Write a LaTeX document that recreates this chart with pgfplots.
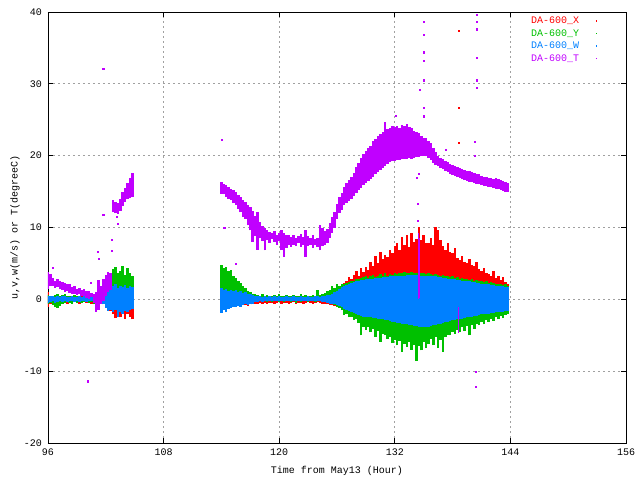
\documentclass[border=0pt]{standalone}
\usepackage{fontspec}
\setmainfont{Liberation Mono}
\usepackage{pgfplots}
\usepackage{pgfplotstable}
\pgfplotsset{compat=1.18}
\definecolor{cX}{RGB}{255,0,0}
\definecolor{cY}{RGB}{0,192,0}
\definecolor{cW}{RGB}{0,128,255}
\definecolor{cT}{RGB}{192,0,255}
\definecolor{cG}{RGB}{160,160,160}
\pgfplotstableread{
x ulo uhi vlo vhi wlo whi tlo thi
96.00 -1.0 1.0 -0.6 0.6 -0.5 0.5 1.5 3.8
96.25 -0.6 0.5 -0.5 0.4 -0.4 0.4 1.8 3.5
96.50 -0.5 0.4 -0.8 0.5 -0.3 0.5 1.9 3.0
96.75 -0.4 0.6 -1.1 0.6 -0.5 0.3 1.6 2.6
97.00 -0.7 0.3 -1.2 0.7 -0.4 0.4 1.7 2.8
97.25 -0.3 0.5 -0.9 0.5 -0.3 0.3 1.4 2.5
97.50 -0.5 0.4 -0.6 0.6 -0.4 0.4 1.3 2.4
97.75 -0.4 0.3 -0.5 0.7 -0.3 0.5 1.0 2.3
98.00 -0.6 0.4 -0.4 0.5 -0.4 0.3 1.2 2.1
98.25 -0.3 0.3 -0.5 0.4 -0.3 0.3 0.9 2.2
98.50 -0.5 0.5 -0.6 0.5 -0.3 0.4 0.8 1.7
98.75 -0.4 0.3 -0.4 0.6 -0.4 0.3 0.7 1.8
99.00 -0.3 0.4 -0.5 0.4 -0.3 0.3 0.6 1.5
99.25 -0.6 0.3 -0.3 0.5 -0.4 0.4 0.7 1.6
99.50 -0.4 0.4 -0.5 0.3 -0.3 0.3 0.4 1.3
99.75 -0.3 0.3 -0.4 0.5 -0.3 0.4 0.5 1.4
100.00 -0.5 0.4 -0.3 0.4 -0.4 0.3 0.2 1.2
100.25 -0.4 0.3 -0.5 0.4 -0.3 0.3 0.0 1.1
100.50 -0.6 0.3 -0.4 0.5 -0.3 0.4 0.3 0.9
100.75 -0.5 0.5 -0.7 0.6 -0.4 0.3 -0.5 0.8
101.00 -0.4 0.4 -0.8 0.5 -0.4 0.4 -1.7 1.0
101.25 -0.6 0.5 -0.6 0.8 -0.5 0.4 -1.5 2.7
101.50 -0.5 0.6 -0.5 0.9 -0.4 0.5 -0.6 1.8
101.75 -0.7 0.6 -0.5 1.0 -0.6 0.6 -0.3 2.9
102.00 -0.9 0.9 -0.8 1.3 -1.2 1.2 0.5 3.4
102.25 -1.2 1.4 -0.9 2.0 -1.6 1.8 1.0 3.8
102.50 -1.6 1.8 -1.0 2.7 -1.5 2.0 1.3 3.6
102.75 -2.0 2.2 -1.2 4.2 -1.8 1.8 12.1 13.8
103.00 -2.6 2.5 -1.2 4.5 -1.5 2.1 12.0 13.6
103.25 -2.2 2.4 -1.3 3.6 -2.5 1.6 11.9 13.4
103.50 -2.5 2.6 -1.0 3.9 -1.7 1.9 12.3 13.9
103.75 -1.9 2.3 -1.2 4.6 -2.0 1.7 13.0 15.0
104.00 -2.7 2.5 -1.3 3.4 -1.6 2.0 13.6 15.5
104.25 -2.0 2.4 -1.2 4.3 -1.8 1.6 13.9 16.2
104.50 -2.4 2.5 -1.1 3.6 -1.5 1.9 14.1 16.9
104.75 -2.8 2.6 -1.2 3.2 -1.4 1.7 14.3 17.6
114.00 -1.2 1.0 -1.6 4.8 -1.9 1.6 14.7 16.3
114.25 -1.0 0.9 -1.3 4.3 -1.5 1.3 14.6 16.0
114.50 -1.1 1.0 -1.5 4.5 -1.8 1.5 14.3 15.9
114.75 -0.9 0.8 -1.1 3.9 -1.3 1.2 14.0 15.6
115.00 -1.0 0.9 -1.0 4.1 -1.2 1.3 13.8 15.4
115.25 -0.8 0.8 -0.8 3.2 -1.0 1.1 13.4 15.2
115.50 -0.9 0.9 -0.9 3.0 -1.1 1.3 13.1 14.9
115.75 -0.8 0.7 -0.7 2.6 -0.9 1.0 12.6 14.5
116.00 -0.9 0.8 -0.8 2.3 -1.0 1.1 12.1 14.2
116.25 -0.8 0.7 -0.6 1.9 -0.8 0.9 11.5 13.8
116.50 -0.8 0.7 -0.5 1.6 -0.7 1.0 11.2 13.5
116.75 -0.9 0.6 -0.6 1.2 -0.8 0.8 10.3 13.2
117.00 -0.7 0.6 -0.5 1.0 -0.6 0.7 9.6 12.9
117.25 -0.7 0.5 -0.5 0.8 -0.7 0.6 8.0 12.3
117.50 -0.6 0.4 -0.4 0.7 -0.4 0.5 8.8 11.6
117.75 -0.6 0.4 -0.4 0.6 -0.4 0.4 6.9 12.2
118.00 -0.5 0.3 -0.3 0.5 -0.3 0.4 8.5 10.8
118.25 -0.6 0.3 -0.4 0.7 -0.4 0.3 8.1 10.2
118.50 -0.5 0.3 -0.3 0.4 -0.3 0.4 6.8 9.9
118.75 -0.6 0.2 -0.4 0.6 -0.3 0.3 8.2 9.6
119.00 -0.5 0.3 -0.3 0.5 -0.3 0.4 7.9 9.4
119.25 -0.5 0.2 -0.4 0.4 -0.3 0.3 8.4 9.2
119.50 -0.6 0.3 -0.3 0.6 -0.2 0.4 8.0 9.5
119.75 -0.5 0.2 -0.3 0.4 -0.3 0.3 7.6 9.0
120.00 -0.4 0.3 -0.4 0.7 -0.3 0.4 8.1 9.3
120.25 -0.6 0.2 -0.3 0.5 -0.2 0.3 6.8 9.6
120.50 -0.5 0.3 -0.4 0.4 -0.3 0.3 5.9 9.3
120.75 -0.5 0.2 -0.3 0.6 -0.3 0.4 7.2 8.9
121.00 -0.6 0.3 -0.3 0.5 -0.2 0.3 7.5 9.0
121.25 -0.5 0.2 -0.4 0.4 -0.3 0.3 7.3 8.7
121.50 -0.4 0.3 -0.3 0.6 -0.3 0.4 7.6 8.9
121.75 -0.6 0.2 -0.5 0.5 -0.2 0.3 7.4 8.6
122.00 -0.5 0.3 -0.3 0.4 -0.3 0.3 7.8 8.8
122.25 -0.5 0.2 -0.4 0.7 -0.3 0.4 7.3 9.1
122.50 -0.6 0.3 -0.3 0.5 -0.2 0.3 7.5 8.7
122.75 -0.5 0.2 -0.3 0.6 -0.3 0.3 5.9 9.6
123.00 -0.4 0.3 -0.4 0.4 -0.3 0.4 7.4 8.8
123.25 -0.5 0.2 -0.3 0.5 -0.2 0.3 7.6 8.5
123.50 -0.6 0.3 -0.3 0.6 -0.3 0.3 7.2 8.9
123.75 -0.5 0.2 -0.4 0.5 -0.3 0.4 7.5 8.4
124.00 -0.4 0.3 -0.3 1.3 -0.3 0.5 7.3 8.6
124.25 -0.5 0.3 -0.3 0.6 -0.3 0.3 6.8 10.3
124.50 -0.6 0.4 -0.4 0.7 -0.4 0.4 7.4 9.9
124.75 -0.6 0.4 -0.4 0.9 -0.4 0.5 7.6 9.5
125.00 -0.7 0.5 -0.5 1.1 -0.5 0.6 7.9 9.8
125.25 -0.8 0.6 -0.6 1.3 -0.6 0.6 8.6 10.6
125.50 -0.8 0.7 -0.7 1.8 -0.6 0.8 9.3 11.5
125.75 -0.9 0.9 -0.8 1.6 -0.7 1.0 10.0 12.2
126.00 -1.0 1.2 -1.0 2.2 -0.8 1.1 11.2 13.3
126.25 -1.1 1.6 -1.2 1.9 -0.9 1.4 12.0 14.2
126.50 -1.2 2.0 -1.5 2.1 -1.0 1.7 12.5 14.8
126.75 -1.3 2.3 -2.2 2.2 -1.3 1.9 13.1 15.6
127.00 -1.4 2.6 -2.0 2.3 -1.5 2.0 13.4 16.2
127.25 -1.5 3.1 -2.5 2.4 -1.6 2.1 13.7 16.6
127.50 -1.6 2.8 -2.4 2.5 -1.8 2.3 14.0 17.0
127.75 -1.7 3.4 -2.9 2.6 -1.9 2.4 14.4 17.6
128.00 -1.8 3.9 -2.7 2.9 -2.0 2.5 14.8 18.4
128.25 -1.9 3.2 -3.3 2.8 -2.2 2.6 15.2 19.0
128.50 -2.0 4.3 -5.0 3.0 -2.3 2.7 15.5 19.7
128.75 -2.0 3.8 -3.8 3.1 -2.4 2.7 15.9 20.3
129.00 -2.1 4.5 -4.2 3.3 -2.4 2.8 16.2 20.6
129.25 -2.1 4.1 -3.9 3.0 -2.5 2.8 16.5 21.0
129.50 -2.2 5.2 -4.6 3.2 -2.5 2.9 16.8 21.4
129.75 -2.2 4.6 -4.1 3.4 -2.6 2.9 17.1 22.0
130.00 -2.3 6.1 -5.2 3.1 -2.6 3.0 17.4 22.3
130.25 -2.3 5.0 -4.4 3.3 -2.7 3.0 17.7 22.8
130.50 -2.4 6.6 -5.9 3.5 -2.7 3.0 18.0 23.0
130.75 -2.4 5.6 -4.8 3.2 -2.8 3.1 18.3 23.3
131.00 -2.5 6.2 -5.0 3.6 -2.9 3.1 18.6 24.7
131.25 -2.5 5.9 -5.5 3.3 -2.9 3.1 18.9 23.7
131.50 -2.6 6.9 -5.2 3.5 -3.0 3.2 19.1 23.9
131.75 -2.6 6.4 -6.1 3.4 -3.1 3.2 19.2 24.1
132.00 -2.7 7.4 -5.6 3.6 -3.2 3.2 19.3 24.0
132.25 -2.7 7.8 -6.4 3.5 -3.3 3.3 19.35 24.2
132.50 -2.8 6.8 -5.8 3.7 -3.3 3.3 19.4 23.9
132.75 -2.8 8.7 -7.3 3.6 -3.4 3.3 19.5 24.3
133.00 -2.8 7.6 -6.2 3.8 -3.5 3.3 19.6 24.1
133.25 -2.9 8.9 -6.6 3.6 -3.5 3.4 19.6 24.4
133.50 -2.9 7.3 -5.9 3.7 -3.6 3.4 19.7 24.0
133.75 -2.9 9.3 -7.0 3.8 -3.6 3.4 19.6 23.8
134.00 -3.0 8.0 -6.3 3.6 -3.7 3.4 19.7 23.5
134.25 -3.0 8.4 -8.6 3.7 -3.7 3.4 19.8 23.3
134.50 -3.0 10.1 -6.5 3.8 -3.8 3.4 19.8 23.1
134.75 -3.0 8.2 -7.1 3.6 -3.8 3.3 19.9 22.8
135.00 -3.0 9.0 -6.0 3.7 -3.8 3.3 20.0 22.5
135.25 -3.0 7.9 -6.8 3.5 -3.8 3.3 19.9 22.4
135.50 -3.0 7.8 -6.2 3.6 -3.8 3.3 19.7 22.1
135.75 -3.0 8.6 -5.5 3.5 -3.7 3.3 19.4 21.7
136.00 -2.9 7.5 -6.4 3.4 -3.6 3.2 19.0 21.1
136.25 -2.9 10.1 -5.2 3.5 -3.6 3.2 18.7 20.5
136.50 -2.9 9.6 -6.8 3.4 -3.5 3.1 18.5 20.0
136.75 -2.8 8.2 -5.6 3.3 -3.4 3.1 18.3 19.7
137.00 -2.8 7.4 -7.3 3.4 -3.3 3.0 18.1 19.5
137.25 -2.8 6.9 -5.3 3.2 -3.2 3.0 17.9 19.3
137.50 -2.7 7.8 -4.9 3.3 -3.1 2.9 17.7 19.1
137.75 -2.7 6.6 -5.0 3.1 -3.0 2.9 17.5 18.9
138.00 -2.6 6.4 -4.5 3.2 -2.9 2.8 17.3 18.7
138.25 -2.6 7.2 -4.8 3.0 -2.9 2.8 17.2 18.5
138.50 -2.5 5.8 -4.2 3.1 -2.8 2.7 17.0 18.4
138.75 -2.5 5.5 -4.6 2.9 -2.7 2.7 16.9 18.3
139.00 -2.4 6.1 -3.9 3.0 -2.7 2.6 16.7 18.1
139.25 -2.4 5.2 -4.4 2.8 -2.6 2.6 16.6 18.0
139.50 -2.3 5.0 -3.7 2.9 -2.5 2.5 16.5 17.9
139.75 -2.3 5.6 -5.0 2.7 -2.5 2.5 16.4 17.8
140.00 -2.2 4.8 -3.6 2.8 -2.4 2.4 16.3 17.7
140.25 -2.2 4.6 -4.1 2.6 -2.3 2.4 16.2 17.6
140.50 -2.1 5.2 -3.4 2.7 -2.3 2.3 16.1 17.5
140.75 -2.1 4.2 -3.6 2.6 -2.2 2.3 16.0 17.4
141.00 -2.0 3.9 -3.2 2.5 -2.1 2.2 15.9 17.2
141.25 -2.0 4.4 -3.5 2.4 -2.1 2.2 15.8 17.1
141.50 -1.9 3.7 -2.9 2.5 -2.0 2.1 15.8 17.0
141.75 -1.9 3.5 -3.1 2.3 -2.0 2.1 15.7 16.9
142.00 -1.8 3.2 -2.7 2.4 -1.9 2.0 15.6 16.9
142.25 -1.8 3.9 -3.0 2.3 -1.9 2.0 15.5 16.8
142.50 -1.8 3.0 -2.5 2.2 -1.8 1.9 15.4 16.9
142.75 -1.7 3.3 -2.8 2.1 -1.8 1.9 15.3 16.7
143.00 -1.7 2.7 -2.3 2.2 -1.7 1.8 15.2 16.6
143.25 -1.7 3.1 -2.6 2.0 -1.7 1.8 15.1 16.5
143.50 -1.6 2.4 -2.2 2.1 -1.6 1.7 15.0 16.4
143.75 -1.6 2.2 -2.0 1.9 -1.6 1.7 15.0 16.2
}\datatab
\pgfplotstableread{
x lo hi
134.42 0.0 9.2
134.60 0.2 8.6
138.60 -4.7 -1.0
}\spiketab
\pgfplotsset{
  bandplot/.style 2 args={forget plot, draw=none, mark=none,
    error bars/.cd, y dir=plus, y explicit, error mark=none,
    error bar style={draw=#1, line width=#2}},
  legdot/.style={legend image code/.code={%
    \path[draw=none] (0pt,0pt) -- (17pt,0pt);
    \fill[draw=none,#1] (16pt,-0.6pt) rectangle (17.2pt,0.6pt);}},
}
\begin{document}
\begin{tikzpicture}
\useasboundingbox (-48pt,-37pt) rectangle (592pt,443pt);
\begin{axis}[
  at={(0pt,0pt)}, anchor=south west,
  scale only axis, width=578pt, height=431pt,
  xmin=96, xmax=156, ymin=-20, ymax=40,
  xtick={96,108,120,132,144,156},
  ytick={-20,-10,0,10,20,30,40},
  grid=major,
  major grid style={cG, dash pattern=on 2pt off 3pt, line width=0.9pt},
  axis line style={line width=0.8pt},
  tick style={black, line width=0.8pt},
  major tick length=5pt,
  /pgf/number format/assume math mode=true,
  ticklabel style={font=\fontsize{10}{12}\selectfont},
  yticklabel style={xshift=-2.5pt},
  xticklabel style={yshift=-2pt},
  xlabel={Time from May13 (Hour)},
  ylabel={u,v,w(m/s) or T(degreeC)},
  xlabel style={at={(axis description cs:0.5,-0.0719)}, anchor=base, font=\fontsize{10}{12}\selectfont},
  ylabel style={at={(axis description cs:-0.057,0.5)}, anchor=center, font=\fontsize{10}{12}\selectfont},
  legend style={draw=none, fill=none, at={(0.955,0.995)}, anchor=north east,
    font=\fontsize{10}{12}\selectfont, row sep=3.3pt, nodes={inner sep=0.5pt}},
  legend cell align=right,
  legend plot pos=right,
]
\addplot[bandplot={cX}{2.5pt}]
  table[x=x, y=ulo, y error plus expr=\thisrow{uhi}-\thisrow{ulo}] {\datatab};
\addplot[bandplot={cY}{2.5pt}]
  table[x=x, y=vlo, y error plus expr=\thisrow{vhi}-\thisrow{vlo}] {\datatab};
\addplot[bandplot={cW}{2.5pt}]
  table[x=x, y=wlo, y error plus expr=\thisrow{whi}-\thisrow{wlo}] {\datatab};
\addplot[bandplot={cT}{2.5pt}]
  table[x=x, y=tlo, y error plus expr=\thisrow{thi}-\thisrow{tlo}] {\datatab};
\addplot[bandplot={cT}{1.2pt}]
  table[x=x, y=lo, y error plus expr=\thisrow{hi}-\thisrow{lo}] {\spiketab};
\addplot[forget plot, cT, only marks, mark=square*, mark size=0.6pt, mark options={draw=none, fill=cT}]
  coordinates {(96.45,4.4) (100.15,-11.4) (100.4,2.3) (101.2,6.6) (101.3,5.7) (101.74,11.8)
  (101.74,32.1) (102.6,8.3) (102.6,6.8) (103.1,11.5) (103.25,10.5) (114.06,22.2) (114.3,10.0)
  (115.5,5.0) (132.1,25.6) (134.96,38.6) (134.96,36.8) (134.96,34.4) (134.96,33.2) (134.96,30.5)
  (134.6,29.2) (134.96,26.7) (134.96,25.5) (134.3,16.9) (134.5,17.5) (134.4,13.3) (134.4,11.0)
  (140.5,39.6) (140.5,38.6) (140.5,37.6) (140.5,33.6) (140.5,30.5) (140.5,29.5) (137.3,20.8)
  (140.3,21.9) (140.3,20.0) (140.4,-10.1) (140.4,-12.2)};
\addplot[forget plot, cX, only marks, mark=square*, mark size=0.6pt, mark options={draw=none, fill=cX}]
  coordinates {(138.6,37.4) (138.6,26.7) (138.6,21.8)};
\addlegendimage{legdot=cX}
\addlegendimage{legdot=cY}
\addlegendimage{legdot=cW}
\addlegendimage{legdot=cT}
\legend{\textcolor{cX}{DA-600\_X},\textcolor{cY}{DA-600\_Y},\textcolor{cW}{DA-600\_W},\textcolor{cT}{DA-600\_T}}
\end{axis}
\end{tikzpicture}
\end{document}
